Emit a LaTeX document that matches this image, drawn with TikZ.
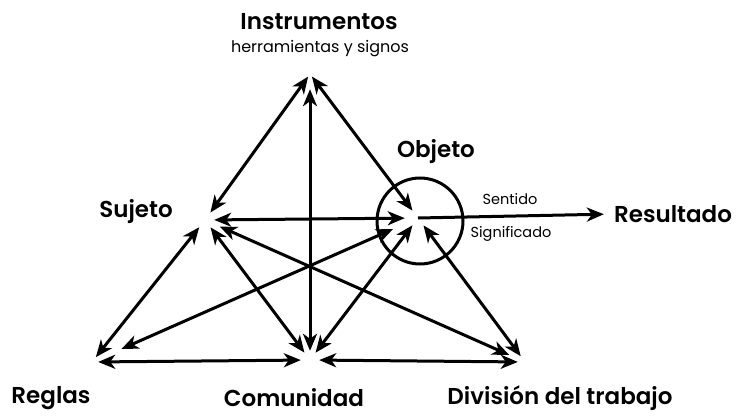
\documentclass[tikz,border=0pt]{standalone}
\usepackage{fontspec}
\setmainfont{Poppins}[BoldFont={Poppins SemiBold}]
\usetikzlibrary{arrows.meta, positioning}
\tikzstyle{vertex}=[circle, inner sep=0pt, minimum size=18pt]
\tikzstyle{bigword}=[inner sep=0pt, font=\bfseries\fontsize{23}{25}\selectfont]
\tikzstyle{smallword}=[inner sep=0pt, font=\fontsize{14.5}{16}\selectfont]
\newcommand{\vertex}{\node[vertex]}

\begin{document}
\begin{tikzpicture}[x=1pt, y=-1pt,
            every edge/.style={
                draw, line width=3pt,
                {Stealth[length=17pt,width=14pt,inset=5pt]}-{Stealth[length=17pt,width=14pt,inset=5pt]}
                }
        ]
            \useasboundingbox (0,0) rectangle (744,417);
            \vertex (ins) at (310,74) [minimum size=6pt]{};
            \vertex (suj) at (205,220) {};
            \vertex (obj) at (418,218) {};
            \vertex (reg) at (92,362) [minimum size=12pt]{};
            \vertex (com) at (310,360) {};
            \vertex (div) at (525,362) [minimum size=14pt]{};
            \node[draw, circle, line width=3pt, minimum size=86pt] (ring) at (420,221) {};
            % labels
            \node[bigword] (tins) at (319,22) {Instrumentos};
            \node[smallword, font=\fontsize{16}{18}\selectfont] (therr) at (320,49) {herramientas y signos};
            \node[bigword] (tobj) at (436,152) {Objeto};
            \node[bigword] (tsuj) at (136,212) {Sujeto};
            \node[bigword] (tres) at (673,214) {Resultado};
            \node[smallword] (tsen) at (510,199) {Sentido};
            \node[smallword] (tsig) at (511,234) {Significado};
            \node[bigword] (treg) at (51,398) {Reglas};
            \node[bigword] (tcom) at (294,398) {Comunidad};
            \node[bigword] (tdiv) at (560,398) {División del trabajo};
        \path
                (ins) edge (suj)
                (ins) edge (obj)
                (ins) edge[shorten <=12pt] (com)
                (suj) edge[shorten >=4pt] (obj)
                (suj) edge (reg)
                (suj) edge (com)
                (suj) edge[shorten <=7pt, shorten >=10pt] (div)
                (obj) edge[shorten <=18pt, shorten >=26pt] (reg)
                (obj) edge (com)
                (obj) edge (div)
                (reg) edge (com)
                (com) edge (div)
            ;
        \draw[line width=3pt, -{Stealth[length=17pt,width=14pt,inset=5pt]}, shorten >=10pt] (obj.center) -- (tres.west);
        \end{tikzpicture}
\end{document}
